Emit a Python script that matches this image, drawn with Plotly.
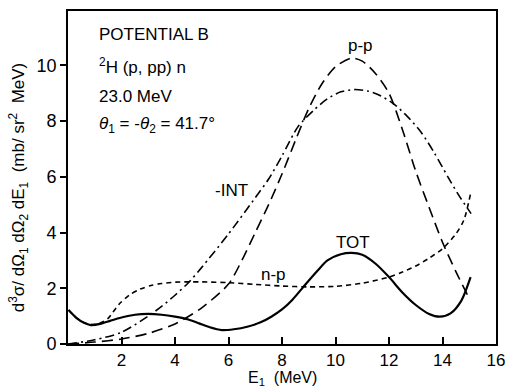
import plotly.graph_objects as go

# ---------------- data ----------------
tot_e = [0.02, 0.3, 0.6, 0.85, 1.2, 1.6, 2.0, 2.5, 3.0, 3.5, 4.0, 4.5, 4.9, 5.3, 5.75,
         6.2, 6.7, 7.2, 7.6, 8.0, 8.4, 8.8, 9.3, 9.7, 10.2, 10.6, 11.0, 11.5, 12.0,
         12.5, 13.0, 13.5, 13.9, 14.3, 14.7, 15.05]
tot_v = [1.22, 0.95, 0.76, 0.68, 0.72, 0.84, 0.95, 1.05, 1.08, 1.05, 0.98, 0.88, 0.74,
         0.6, 0.5, 0.53, 0.62, 0.78, 0.98, 1.24, 1.6, 2.05, 2.6, 3.0, 3.22, 3.27, 3.2,
         2.88, 2.4, 1.85, 1.4, 1.08, 0.98, 1.1, 1.55, 2.4]

np_e = [0.02, 0.3, 0.6, 0.9, 1.2, 1.5, 1.9, 2.3, 2.7, 3.1, 3.5, 4.0, 4.5, 5.0, 6.0, 7.0,
        8.0, 9.0, 10.0, 11.0, 12.0, 12.5, 13.0, 13.5, 14.0, 14.5, 14.8, 15.05]
np_v = [1.22, 0.95, 0.76, 0.7, 0.75, 0.92, 1.42, 1.76, 1.97, 2.1, 2.17, 2.22, 2.23, 2.23,
        2.2, 2.14, 2.08, 2.05, 2.07, 2.18, 2.4, 2.58, 2.8, 3.08, 3.42, 3.95, 4.45, 5.4]

pp_e = [0.0, 1.0, 2.0, 3.0, 4.0, 5.0, 6.0, 6.5, 7.0, 7.5, 8.0, 8.5, 9.0, 9.5, 10.0,
        10.6, 11.0, 11.5, 12.0, 12.5, 13.0, 13.5, 14.0, 14.5, 15.0]
pp_v = [0.0, 0.07, 0.18, 0.38, 0.72, 1.3, 2.15, 3.0, 4.0, 5.0, 6.1, 7.3, 8.45, 9.35,
        9.95, 10.26, 10.15, 9.7, 9.0, 7.7, 6.2, 4.9, 3.65, 2.6, 1.63]

int_e = [0.0, 1.0, 2.0, 3.0, 3.5, 4.0, 4.5, 5.0, 6.0, 7.0, 7.5, 8.0, 8.6, 9.2, 9.7,
         10.2, 10.7, 11.2, 11.7, 12.2, 12.7, 13.2, 13.7, 14.2, 14.6, 15.07]
int_v = [0.0, 0.15, 0.42, 1.0, 1.35, 1.75, 2.2, 2.75, 3.95, 5.25, 5.92, 6.75, 7.8, 8.4,
         8.8, 9.05, 9.13, 9.08, 8.9, 8.6, 8.15, 7.6, 6.85, 6.0, 5.35, 4.68]

x_ticks = [2, 4, 6, 8, 10, 12, 14, 16]
y_ticks = [0, 2, 4, 6, 8, 10]

FONT = "Liberation Sans, Arial, sans-serif"
SMOOTH = 0.75

fig = go.Figure()
fig.add_trace(go.Scatter(x=tot_e, y=tot_v, mode="lines",
                         line=dict(color="black", width=2.2, shape="spline", smoothing=SMOOTH),
                         name="TOT"))
fig.add_trace(go.Scatter(x=np_e, y=np_v, mode="lines",
                         line=dict(color="black", width=1.6, dash="5px,4px", shape="spline",
                                   smoothing=SMOOTH), name="n-p"))
fig.add_trace(go.Scatter(x=pp_e, y=pp_v, mode="lines",
                         line=dict(color="black", width=1.6, dash="11px,6px", shape="spline",
                                   smoothing=SMOOTH), name="p-p"))
fig.add_trace(go.Scatter(x=int_e, y=int_v, mode="lines",
                         line=dict(color="black", width=1.6, dash="9px,4px,2px,4px",
                                   shape="spline", smoothing=SMOOTH), name="-INT"))

ann = []
def txt(x, y, s, size=17, xanchor="center", xref="x", yref="y", angle=0, yanchor="middle"):
    ann.append(dict(x=x, y=y, text=s, showarrow=False, xref=xref, yref=yref,
                    xanchor=xanchor, yanchor=yanchor, textangle=angle,
                    font=dict(family=FONT, size=size, color="black")))

txt(1.08, 11.1, "POTENTIAL B", xanchor="left")
txt(1.08, 9.96, "<sup>2</sup>H (p, pp) n", xanchor="left")
txt(1.08, 8.89, "23.0 MeV", xanchor="left")
txt(1.08, 7.85, "<i>θ</i><sub>1</sub> = -<i>θ</i><sub>2</sub> = 41.7°", xanchor="left")

txt(10.94, 10.72, "p-p")
txt(6.1, 5.52, "-INT")
txt(7.68, 2.51, "n-p")
txt(10.65, 3.66, "TOT")

# axis titles
txt(-0.115, 0.47, "d<sup>3</sup>σ/ dΩ<sub>1</sub> dΩ<sub>2</sub> dE<sub>1</sub>  (mb/ sr<sup>2</sup>  MeV)",
    size=17, xref="paper", yref="paper", angle=-90)
txt(0.5, -0.137, "E<sub>1</sub>  (MeV)", size=16, xref="paper", yref="paper", yanchor="bottom")

fig.update_layout(
    width=514, height=390,
    margin=dict(l=68, r=9, t=10, b=46),
    paper_bgcolor="white", plot_bgcolor="white",
    showlegend=False,
    annotations=ann,
    font=dict(family=FONT, size=18, color="black"),
)
fig.update_xaxes(range=[0, 16], tickvals=x_ticks, ticks="inside", ticklen=7,
                 tickwidth=1.5, tickcolor="black", showline=True, linecolor="black",
                 linewidth=1.8, mirror=True, showgrid=False, zeroline=False,
                 tickfont=dict(family=FONT, size=17, color="black"))
fig.update_yaxes(range=[0, 11.95], tickvals=y_ticks, ticks="outside", ticklen=6,
                 tickwidth=1.5, tickcolor="black", showline=True, linecolor="black",
                 linewidth=1.8, mirror=True, showgrid=False, zeroline=False,
                 ticklabelstandoff=0,
                 tickfont=dict(family=FONT, size=18, color="black"))

fig.write_html("out.html")
